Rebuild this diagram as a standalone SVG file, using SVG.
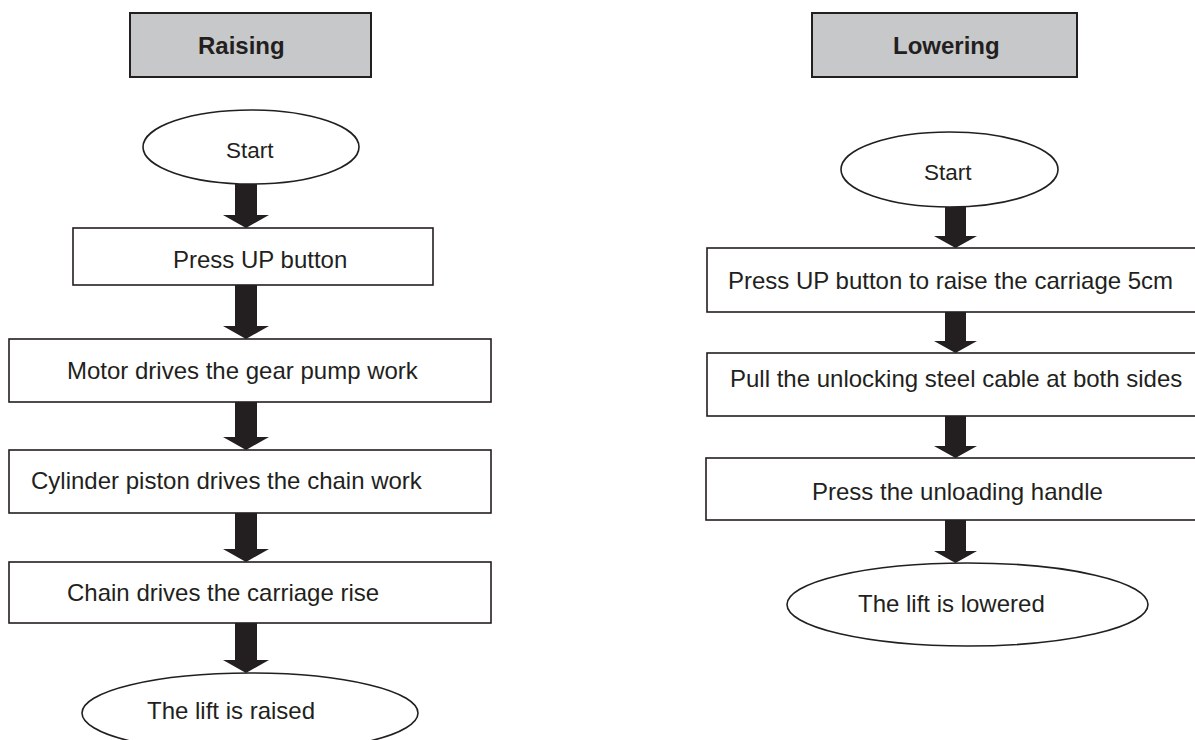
<svg xmlns="http://www.w3.org/2000/svg" width="1195" height="740" viewBox="0 0 1195 740">
<style>
.hdr{fill:#c7c8c9;stroke:#231f20;stroke-width:2}
.box{fill:#fff;stroke:#231f20;stroke-width:1.6}
.t{font-family:"Liberation Sans",Arial,sans-serif;font-size:24px;fill:#231f20}
.b{font-weight:bold}
.arr{fill:#231f20}
</style>
<rect width="1195" height="740" fill="#fff"/>
<g id="raising-header"><rect class="hdr" x="130" y="13" width="241" height="64"/><text class="t b" x="198" y="54">Raising</text></g>
<g id="r-start"><ellipse class="box" cx="251" cy="147" rx="108" ry="37"/><text class="t" x="226" y="158" style="font-size:22.5px">Start</text></g>
<g id="r-press"><rect class="box" x="73" y="228" width="360" height="57"/><text class="t" x="173" y="268">Press UP button</text></g>
<g id="r-motor"><rect class="box" x="9" y="339" width="482" height="63"/><text class="t" x="67" y="379">Motor drives the gear pump work</text></g>
<g id="r-cylinder"><rect class="box" x="9" y="450" width="482" height="63"/><text class="t" x="31" y="489">Cylinder piston drives the chain work</text></g>
<g id="r-chain"><rect class="box" x="9" y="562" width="482" height="61"/><text class="t" x="67" y="601">Chain drives the carriage rise</text></g>
<g id="r-end"><ellipse class="box" cx="250" cy="713" rx="168" ry="40"/><text class="t" x="147" y="719">The lift is raised</text></g>

<g id="lowering-header"><rect class="hdr" x="812" y="13" width="265" height="64"/><text class="t b" x="893" y="54">Lowering</text></g>
<g id="l-start"><ellipse class="box" cx="949.5" cy="169.5" rx="108.5" ry="37.5"/><text class="t" x="924" y="180" style="font-size:22.5px">Start</text></g>
<g id="l-press"><rect class="box" x="707" y="248" width="500" height="64"/><text class="t" x="728" y="289">Press UP button to raise the carriage 5cm</text></g>
<g id="l-pull"><rect class="box" x="707" y="353" width="500" height="63"/><text class="t" x="730" y="387">Pull the unlocking steel cable at both sides</text></g>
<g id="l-unload"><rect class="box" x="706" y="458" width="501" height="62"/><text class="t" x="812" y="500">Press the unloading handle</text></g>
<g id="l-end"><ellipse class="box" cx="967.5" cy="604.5" rx="180.5" ry="41.5"/><text class="t" x="858" y="612">The lift is lowered</text></g>

<g id="connectors" class="arr">
<polygon points="235,184 257,184 257,215 269,215 246,228 223,215 235,215"/>
<polygon points="235,285 257,285 257,326 269,326 246,339 223,326 235,326"/>
<polygon points="235,402 257,402 257,437 269,437 246,450 223,437 235,437"/>
<polygon points="235,513 257,513 257,549 269,549 246,562 223,549 235,549"/>
<polygon points="235,623 257,623 257,660 269,660 246,673 223,660 235,660"/>
<polygon points="945,207 966,207 966,236 977,236 955.5,248 934,236 945,236"/>
<polygon points="945,312 966,312 966,341 977,341 955.5,353 934,341 945,341"/>
<polygon points="945,416 966,416 966,446 977,446 955.5,458 934,446 945,446"/>
<polygon points="945,520 966,520 966,551 977,551 955.5,563 934,551 945,551"/>
</g>
</svg>
